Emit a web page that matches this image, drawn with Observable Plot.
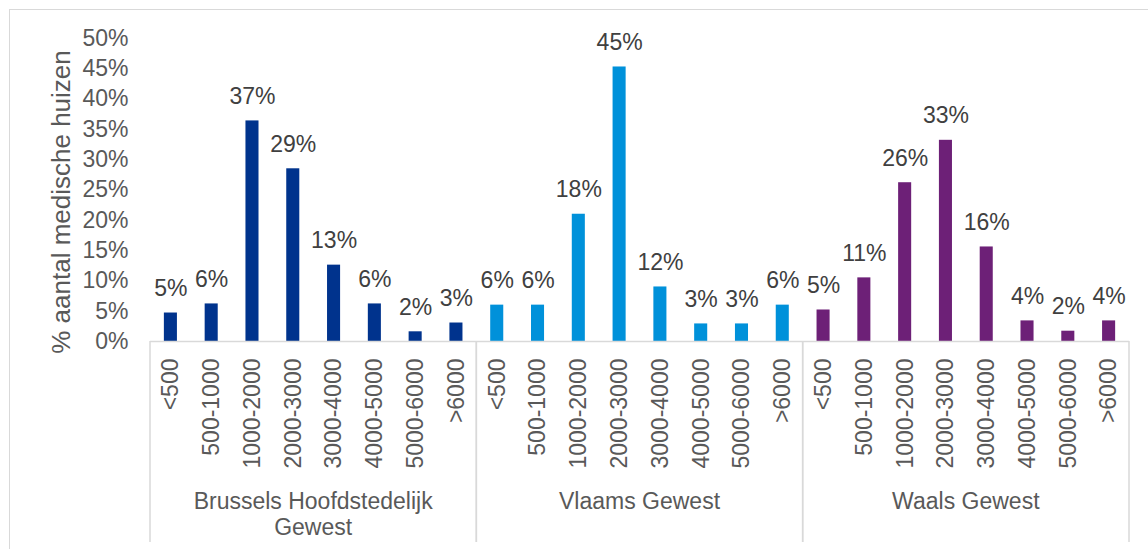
<!DOCTYPE html>
<html><head><meta charset="utf-8">
<script src="https://cdn.jsdelivr.net/npm/d3@7"></script>
<script src="https://cdn.jsdelivr.net/npm/@observablehq/plot@0.6"></script>
<style>
html,body{margin:0;padding:0;background:#fff;}
#wrap{position:relative;width:1148px;height:549px;overflow:hidden;}
#border{position:absolute;left:9px;top:9px;width:1300px;height:700px;border-top:1.5px solid #d9d9d9;border-left:1.5px solid #d9d9d9;}
#wrap svg{position:absolute;left:0;top:0;}
</style></head><body><div id="wrap"><div id="border"></div></div>
<script>
const regions = ["Brussels Hoofdstedelijk Gewest", "Vlaams Gewest", "Waals Gewest"];
const regionLines = [["Brussels Hoofdstedelijk", "Gewest"], ["Vlaams Gewest"], ["Waals Gewest"]];
const categories = ["<500", "500-1000", "1000-2000", "2000-3000", "3000-4000", "4000-5000", "5000-6000", ">6000"];
// bar heights (%) as drawn
const brussels = [4.7, 6.2, 36.4, 28.5, 12.6, 6.2, 1.6, 3.05];
const vlaams = [6.0, 6.0, 21.0, 45.3, 9.0, 2.9, 2.9, 6.0];
const waals = [5.2, 10.5, 26.2, 33.2, 15.6, 3.4, 1.7, 3.4];
// data labels (%) as printed
const brusselsLabels = [5, 6, 37, 29, 13, 6, 2, 3];
const vlaamsLabels = [6, 6, 18, 45, 12, 3, 3, 6];
const waalsLabels = [5, 11, 26, 33, 16, 4, 2, 4];
const yTicks = [0, 5, 10, 15, 20, 25, 30, 35, 40, 45, 50];
const colors = ["#00338D", "#0091DA", "#6D2077"];
const yTitle = "% aantal medische huizen";

const seriesValues = [brussels, vlaams, waals];
const seriesLabels = [brusselsLabels, vlaamsLabels, waalsLabels];
const data = regions.flatMap((r, i) => categories.map((c, j) => ({
  region: r, cat: c, key: r + "|" + c,
  value: seriesValues[i][j] / 100,
  label: seriesLabels[i][j] + "%"
})));
const keys = data.map(d => d.key);

const FONT = "'Liberation Sans', Arial, sans-serif";
const GRID = "#d9d9d9";
const TEXT = "#595959";

function groupDecor(index, scales, values, dims) {
  const x = scales.x;
  const bw = x.bandwidth();
  const step = x.step ? x.step() : bw / 0.32;
  const pad = (step - bw) / 2;
  const y0 = dims.height - dims.marginBottom;
  const g = d3.create("svg:g");
  regions.forEach((r, i) => {
    const left = x(r + "|" + categories[0]) - pad;
    const right = x(r + "|" + categories[categories.length - 1]) + bw + pad;
    for (const xx of [left, right]) {
      g.append("line").attr("x1", xx).attr("x2", xx).attr("y1", y0).attr("y2", dims.height - 7)
        .attr("stroke", GRID).attr("stroke-width", 1.5);
    }
    const t = g.append("text").attr("text-anchor", "middle").attr("fill", TEXT)
      .attr("font-size", 23).attr("font-family", FONT);
    regionLines[i].forEach((line, k) => {
      t.append("tspan").attr("x", (left + right) / 2).attr("y", y0 + 168 + k * 26).text(line);
    });
  });
  return g.node();
}

const chart = Plot.plot({
  width: 1148,
  height: 549,
  marginLeft: 150,
  marginRight: 19,
  marginTop: 38,
  marginBottom: 208,
  style: {fontFamily: FONT, background: "transparent", overflow: "visible"},
  x: {domain: keys, paddingInner: 0.68, paddingOuter: 0.34, round: false},
  y: {domain: [0, 0.5]},
  color: {domain: regions, range: colors},
  marks: [
    Plot.barY(data, {x: "key", y: "value", fill: "region"}),
    Plot.ruleY([0], {stroke: GRID, strokeWidth: 1.5}),
    Plot.text(data, {x: "key", y: "value", text: "label", lineAnchor: "bottom", dy: -17, fontSize: 23, fill: "#404040"}),
    Plot.axisY(yTicks.map(v => v / 100), {tickSize: 0, tickPadding: 22, fontSize: 23, color: TEXT, label: null,
      tickFormat: d => Math.round(d * 100) + "%"}),
    Plot.axisX({tickRotate: -90, tickSize: 0, tickPadding: 17, fontSize: 23, color: TEXT, label: null,
      tickFormat: k => k.split("|")[1]}),
    Plot.text([yTitle], {frameAnchor: "left", text: d => d, rotate: -90, textAnchor: "middle", lineAnchor: "bottom", dx: -81, dy: 12, fontSize: 26, fill: TEXT}),
    groupDecor
  ]
});
document.getElementById("wrap").appendChild(chart);
</script>
</body></html>
